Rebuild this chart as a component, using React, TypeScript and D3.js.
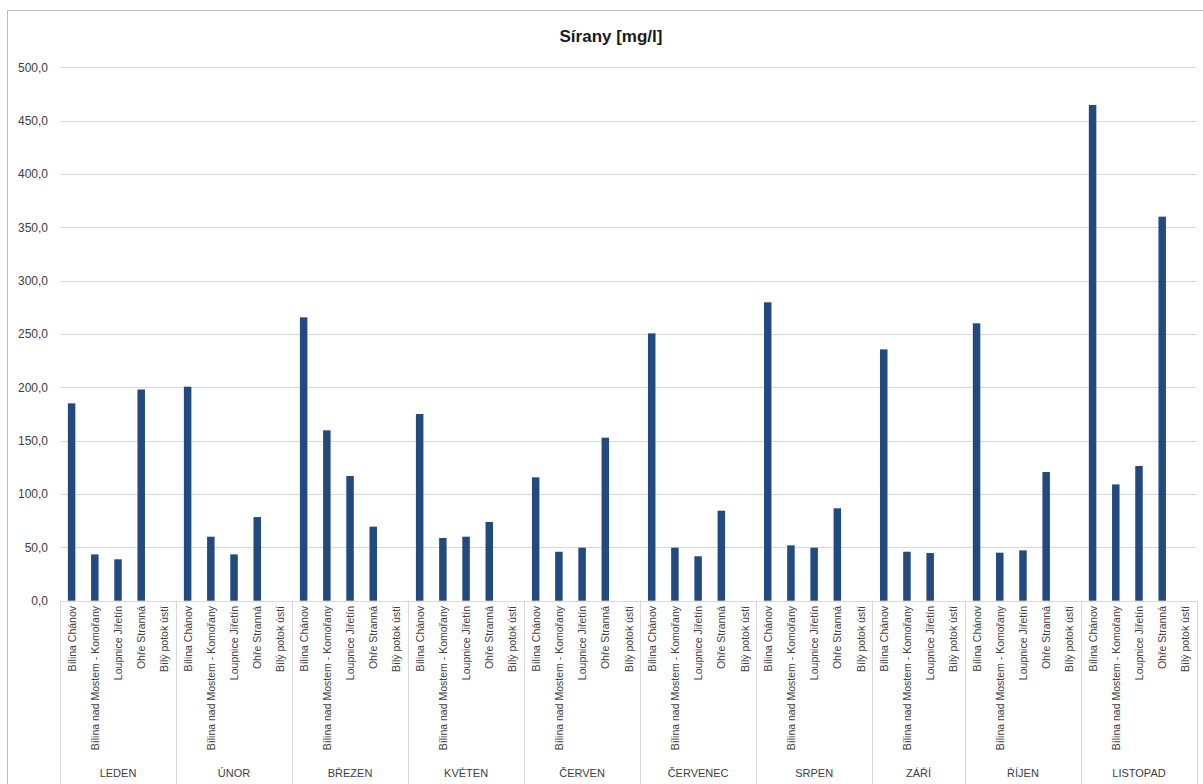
import React from "react";
import * as d3 from "d3";

const title = "Sírany [mg/l]";
const months = ["LEDEN", "ÚNOR", "BŘEZEN", "KVĚTEN", "ČERVEN", "ČERVENEC", "SRPEN", "ZÁŘÍ", "ŘÍJEN", "LISTOPAD"];
const stations = ["Bílina Chánov", "Bílina nad Mostem - Komořany", "Loupnice Jiřetín", "Ohře Stranná", "Bílý potok ústí"];
// station categories missing from a month's group
const omitted = [{ month: "ZÁŘÍ", station: "Ohře Stranná" }];

const bilinaChanov = [185, 200.6, 265.6, 175, 115.6, 250.6, 279.7, 235.6, 260, 464.7];
const bilinaKomorany = [43.4, 60, 159.7, 58.8, 45.9, 49.7, 51.9, 45.9, 45, 109];
const loupniceJiretin = [38.8, 43.4, 116.9, 60, 49.7, 41.6, 49.7, 44.7, 47.2, 126.3];
const ohreStranna = [198, 78.4, 69.4, 73.8, 152.8, 84.4, 86.6, null, 120.6, 360];
const bilyPotok = [null, null, null, null, null, null, null, null, null, null];

const yTicks = [0, 50, 100, 150, 200, 250, 300, 350, 400, 450, 500];

const seriesByStation: (number | null)[][] = [bilinaChanov, bilinaKomorany, loupniceJiretin, ohreStranna, bilyPotok];

type Cat = { key: string; month: string; mi: number; station: string; value: number | null };

const categories: Cat[] = [];
months.forEach((m, mi) => {
  stations.forEach((s, si) => {
    if (omitted.some((o) => o.month === m && o.station === s)) return;
    categories.push({ key: m + "|" + s, month: m, mi, station: s, value: seriesByStation[si][mi] });
  });
});

const W = 1203;
const H = 784;
const left = 60;
const right = 1197;
const top = 67.3;
const bottom = 600.7;
const font = "'Liberation Sans', Arial, sans-serif";
const barColor = "#234a7e";
const gridColor = "#d9d9d9";
const textColor = "#404040";

export default function App() {
  const x = d3.scaleBand<string>().domain(categories.map((c) => c.key)).range([left, right]).padding(0);
  const y = d3.scaleLinear().domain([0, 500]).range([bottom, top]);
  const bw = x.bandwidth();
  const barW = 7.5;
  const fmt = (v: number) => d3.format(".1f")(v).replace(".", ",");

  const groups = months.map((m) => {
    const cats = categories.filter((c) => c.month === m);
    const x0 = x(cats[0].key)!;
    const x1 = x(cats[cats.length - 1].key)! + bw;
    return { m, x0, x1 };
  });

  return (
    <svg width={W} height={H} style={{ position: "absolute", left: 0, top: 0, background: "#fff" }} fontFamily={font}>
      <rect x={7.5} y={10.5} width={W + 10} height={H + 10} fill="#fff" stroke="#bfbfbf" strokeWidth={1} />
      <text x={611} y={42} textAnchor="middle" fontSize={17} fontWeight="bold" fill="#1a1a1a">
        {title}
      </text>
      {yTicks.map((t) => (
        <g key={t}>
          <line x1={left} x2={right} y1={Math.round(y(t)) + 0.5} y2={Math.round(y(t)) + 0.5} stroke={gridColor} strokeWidth={1} />
          <text x={48} y={y(t)} dy="0.35em" textAnchor="end" fontSize={12} fill={textColor}>
            {fmt(t)}
          </text>
        </g>
      ))}
      {groups.map((g, i) => (
        <g key={g.m}>
          {i === 0 && <line x1={Math.round(g.x0) + 0.5} x2={Math.round(g.x0) + 0.5} y1={bottom} y2={H} stroke={gridColor} />}
          <line x1={Math.round(g.x1) + 0.5} x2={Math.round(g.x1) + 0.5} y1={bottom} y2={H} stroke={gridColor} />
          <text x={(g.x0 + g.x1) / 2} y={777} textAnchor="middle" fontSize={11} fill={textColor}>
            {g.m}
          </text>
        </g>
      ))}
      {categories.map((c) =>
        c.value == null ? null : (
          <rect
            key={c.key}
            x={x(c.key)! + bw / 2 - barW / 2}
            y={y(c.value)}
            width={barW}
            height={y(0) - y(c.value)}
            fill={barColor}
          />
        )
      )}
      {categories.map((c) => {
        const cx = x(c.key)! + bw / 2;
        return (
          <text
            key={"l" + c.key}
            transform={`translate(${cx + 4},${606}) rotate(-90)`}
            textAnchor="end"
            fontSize={10.5}
            fill={textColor}
          >
            {c.station}
          </text>
        );
      })}
    </svg>
  );
}
